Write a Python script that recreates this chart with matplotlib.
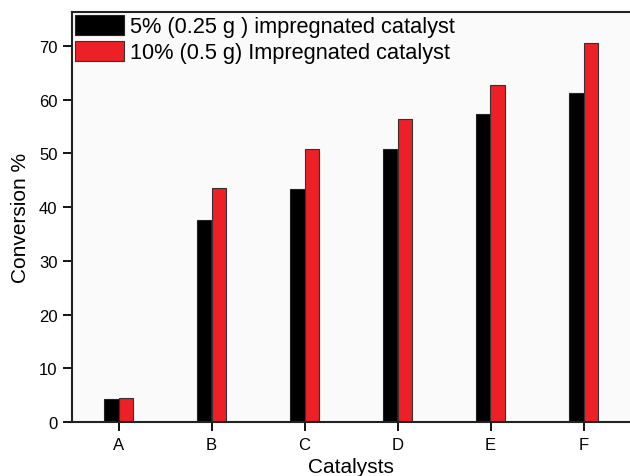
import matplotlib
matplotlib.use("Agg")
import matplotlib.pyplot as plt
import numpy as np

plt.rcParams['font.family'] = ['Liberation Sans', 'DejaVu Sans']

categories = ['A', 'B', 'C', 'D', 'E', 'F']
series_5 = [4.2, 37.5, 43.3, 50.8, 57.4, 61.2]
series_10 = [4.5, 43.5, 50.8, 56.4, 62.8, 70.6]
label_5 = '5% (0.25 g ) impregnated catalyst'
label_10 = '10% (0.5 g) Impregnated catalyst'
yticks = [0, 10, 20, 30, 40, 50, 60, 70]

fig = plt.figure(figsize=(6.3, 4.77), dpi=100)
ax = fig.add_axes([72/630, 54/477, 558/630, 410/477])
ax.set_facecolor('#fafafa')

x = np.arange(len(categories))
w = 0.155
ax.bar(x - w/2, series_5, w, color='black', edgecolor='#222222', linewidth=0.8, label=label_5)
ax.bar(x + w/2, series_10, w, color='#ed2027', edgecolor='#333333', linewidth=0.8, label=label_10)

ax.set_xlim(-0.5, 5.5)
ax.set_ylim(0, 76.3)
ax.set_xticks(x)
ax.set_xticklabels(categories, fontsize=12)
ax.set_yticks(yticks)
ax.set_yticklabels([str(v) for v in yticks], fontsize=12)
ax.tick_params(axis='y', direction='out', length=6.5, width=1.3, pad=4)
ax.tick_params(axis='x', direction='out', length=6.5, width=1.3, pad=4)
for s in ['left', 'bottom', 'top']:
    ax.spines[s].set_linewidth(1.5)
    ax.spines[s].set_color('#222222')
ax.spines['right'].set_visible(False)

ax.set_xlabel('Catalysts', fontsize=15, labelpad=4)
ax.set_ylabel('Conversion %', fontsize=15, labelpad=6)

leg = ax.legend(loc='upper left', frameon=False, prop={'size': 15.7}, handlelength=2.25,
                handleheight=1.0, handletextpad=0.28, labelspacing=0.16,
                borderaxespad=0.1, borderpad=0.05)

fig.savefig('out.png', dpi=100, facecolor='white')
